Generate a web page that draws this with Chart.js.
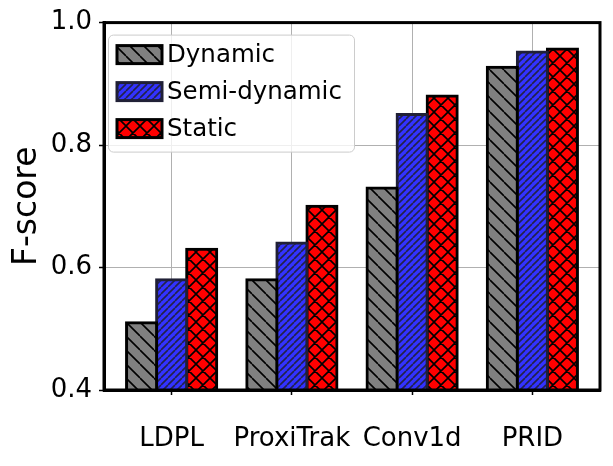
<!DOCTYPE html>
<html>
<head>
<meta charset="utf-8">
<script src="https://cdn.jsdelivr.net/npm/chart.js@4.4.1/dist/chart.umd.min.js"></script>
<style>body{margin:0;background:#fff}</style>
</head>
<body>
<canvas id="chart" width="613" height="466"></canvas>
<script>
const categories = ["LDPL", "ProxiTrak", "Conv1d", "PRID"];
const dynamicScores = [0.51, 0.58, 0.73, 0.927];
const semiDynamicScores = [0.58, 0.64, 0.85, 0.952];
const staticScores = [0.63, 0.70, 0.88, 0.957];
const yTicks = [0.4, 0.6, 0.8, 1.0];

// matplotlib-like hatch fill
function hatch(bg, ink, size, kind) {
    const c = document.createElement("canvas");
    c.width = size; c.height = size;
    const g = c.getContext("2d");
    g.fillStyle = bg;
    g.fillRect(0, 0, size, size);
    g.strokeStyle = ink;
    g.lineWidth = 1.6;
    g.beginPath();
    for (const o of [-size, 0, size]) {
        if (kind !== "/") { g.moveTo(o, 0); g.lineTo(o + size, size); }
        if (kind !== "\\") { g.moveTo(o, size); g.lineTo(o + size, 0); }
    }
    g.stroke();
    return g.createPattern(c, "repeat");
}

const points = vals => vals.map((v, i) => ({x: i, y: v}));

const frameAndLegend = {
    id: "frameAndLegend",
    afterDraw(chart) {
        const {ctx, chartArea: a} = chart;
        ctx.save();
        ctx.strokeStyle = "#000";
        ctx.lineWidth = 3;
        ctx.strokeRect(a.left, a.top, a.right - a.left, a.bottom - a.top);

        const lx = a.left + 4, ly = a.top + 12;
        ctx.beginPath();
        ctx.roundRect(lx + 0.5, ly + 0.5, 246, 117, 5);
        ctx.fillStyle = "rgba(255,255,255,0.8)";
        ctx.fill();
        ctx.strokeStyle = "#cccccc";
        ctx.lineWidth = 1;
        ctx.stroke();
        chart.data.datasets.forEach((ds, i) => {
            const y = ly + 11 + i * 37;
            ctx.fillStyle = ds.backgroundColor;
            ctx.fillRect(lx + 9, y, 45, 18);
            ctx.strokeStyle = ds.borderColor;
            ctx.lineWidth = 3;
            ctx.strokeRect(lx + 9, y, 45, 18);
            ctx.fillStyle = "#000";
            ctx.font = "24.5px 'DejaVu Sans'";
            ctx.textBaseline = "middle";
            ctx.fillText(ds.label, lx + 59, y + 10);
        });
        ctx.restore();
    }
};

new Chart(document.getElementById("chart"), {
    type: "bar",
    data: {
        datasets: [{
            label: "Dynamic",
            data: points(dynamicScores),
            backgroundColor: hatch("#808080", "#000", 14, "\\"),
            borderColor: "#000"
        }, {
            label: "Semi-dynamic",
            data: points(semiDynamicScores),
            backgroundColor: hatch("#3333ff", "#22224a", 7, "/"),
            borderColor: "#202036"
        }, {
            label: "Static",
            data: points(staticScores),
            backgroundColor: hatch("#ff0000", "#000", 14, "x"),
            borderColor: "#000"
        }]
    },
    options: {
        responsive: false,
        animation: false,
        layout: {padding: {top: 21, right: 13, left: 0, bottom: 0}},
        datasets: {
            bar: {
                borderWidth: 3,
                inflateAmount: 1.5,
                categoryPercentage: 0.75,
                barPercentage: 1.0
            }
        },
        plugins: {legend: {display: false}, tooltip: {enabled: false}},
        scales: {
            x: {
                type: "linear",
                min: -0.5625,
                max: 3.5625,
                offset: false,
                z: 1,
                afterBuildTicks: s => { s.ticks = categories.map((_, i) => ({value: i})); },
                afterFit: s => { s.height = 76; },
                grid: {offset: false, color: "#b0b0b0", lineWidth: 1, tickColor: "#000", tickLength: 5, tickWidth: 1.5},
                border: {color: "#000", width: 3},
                ticks: {
                    padding: 29,
                    color: "#000",
                    font: {family: "'DejaVu Sans'", size: 26},
                    callback: v => categories[v]
                }
            },
            y: {
                min: 0.4,
                max: 1.0,
                z: 1,
                afterBuildTicks: s => { s.ticks = yTicks.map(v => ({value: v})); },
                afterFit: s => { s.width = 104; },
                grid: {color: "#b0b0b0", lineWidth: 1, tickColor: "#000", tickLength: 5, tickWidth: 1.5},
                border: {color: "#000", width: 3},
                ticks: {
                    padding: 7,
                    color: "#000",
                    font: {family: "'DejaVu Sans'", size: 26},
                    callback: v => v.toFixed(1)
                },
                title: {
                    display: true,
                    text: "F-score",
                    color: "#000",
                    font: {family: "'DejaVu Sans'", size: 33},
                    padding: {top: 8, bottom: 0}
                }
            }
        }
    },
    plugins: [frameAndLegend]
});
</script>
</body>
</html>
